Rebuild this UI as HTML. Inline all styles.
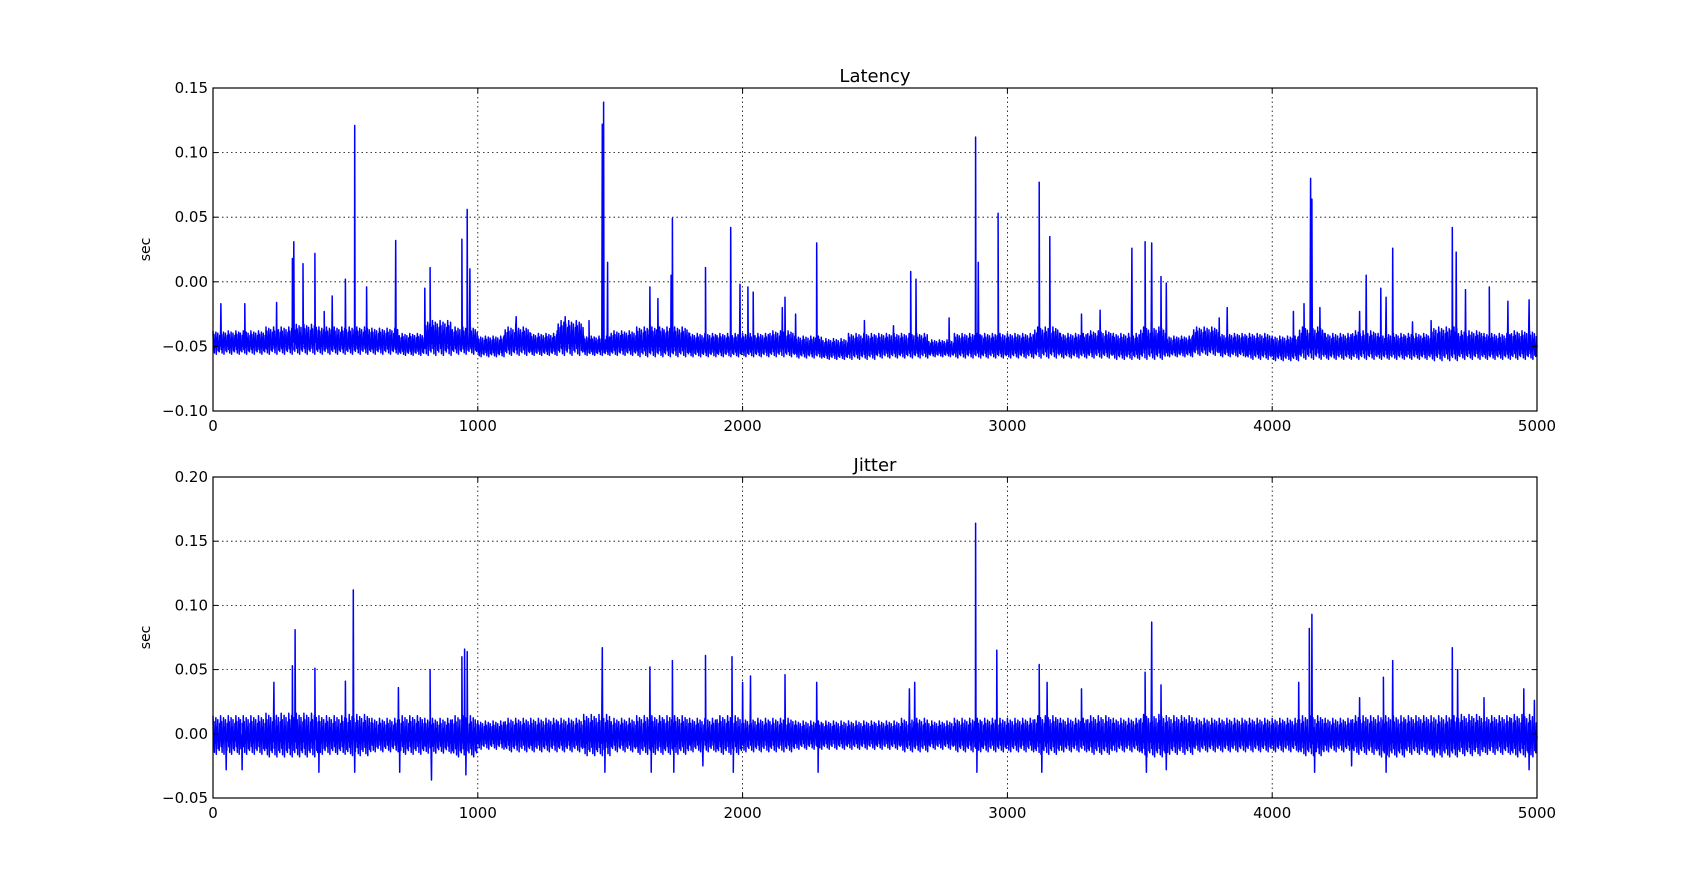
<!DOCTYPE html>
<html><head><meta charset="utf-8"><style>
html,body{margin:0;padding:0;background:#fff;}
svg{display:block;font-family:"DejaVu Sans","Liberation Sans",sans-serif;}
</style></head><body>
<svg id="chart" width="1707" height="887" viewBox="0 0 1707 887" xmlns="http://www.w3.org/2000/svg"></svg>
<script>
const xTicks=[0,1000,2000,3000,4000,5000];
const latTicks=[0.15,0.10,0.05,0.00,-0.05,-0.10];
const jitTicks=[0.20,0.15,0.10,0.05,0.00,-0.05];
const latHi=[-0.038,-0.038,-0.035,-0.033,-0.035,-0.035,-0.036,-0.04,-0.03,-0.035,-0.042,-0.035,-0.04,-0.03,-0.042,-0.038,-0.035,-0.035,-0.04,-0.04,-0.04,-0.038,-0.042,-0.044,-0.04,-0.04,-0.04,-0.045,-0.04,-0.04,-0.04,-0.035,-0.04,-0.038,-0.04,-0.035,-0.042,-0.035,-0.04,-0.04,-0.042,-0.035,-0.04,-0.038,-0.04,-0.04,-0.035,-0.038,-0.04,-0.038];
const latLo=[-0.056,-0.056,-0.056,-0.056,-0.056,-0.056,-0.056,-0.057,-0.057,-0.056,-0.058,-0.057,-0.057,-0.057,-0.057,-0.057,-0.058,-0.058,-0.058,-0.058,-0.058,-0.058,-0.059,-0.06,-0.06,-0.059,-0.059,-0.058,-0.059,-0.059,-0.059,-0.059,-0.059,-0.059,-0.06,-0.06,-0.058,-0.057,-0.058,-0.06,-0.061,-0.06,-0.06,-0.06,-0.06,-0.06,-0.061,-0.06,-0.06,-0.06];
const latSpikeX=[30,120,240,300,305,340,385,420,450,500,535,580,690,800,820,940,960,970,1145,1330,1420,1470,1475,1490,1650,1680,1730,1735,1860,1955,1990,2020,2040,2150,2160,2200,2280,2460,2570,2635,2655,2780,2880,2890,2965,3120,3160,3280,3350,3470,3520,3545,3580,3600,3800,3830,4080,4120,4145,4150,4180,4330,4355,4410,4430,4455,4530,4600,4680,4695,4730,4820,4890,4970];
const latSpikeY=[-0.017,-0.017,-0.016,0.018,0.031,0.014,0.022,-0.023,-0.011,0.002,0.121,-0.004,0.032,-0.005,0.011,0.033,0.056,0.01,-0.027,-0.027,-0.03,0.122,0.139,0.015,-0.004,-0.013,0.005,0.049,0.011,0.042,-0.002,-0.004,-0.008,-0.02,-0.012,-0.025,0.030,-0.03,-0.034,0.008,0.002,-0.028,0.112,0.015,0.053,0.077,0.035,-0.025,-0.022,0.026,0.031,0.030,0.004,-0.001,-0.028,-0.02,-0.023,-0.017,0.080,0.064,-0.02,-0.023,0.005,-0.005,-0.012,0.026,-0.031,-0.03,0.042,0.023,-0.006,-0.004,-0.015,-0.014];
const jitHi=[0.014,0.014,0.016,0.016,0.014,0.015,0.012,0.014,0.012,0.014,0.01,0.012,0.012,0.012,0.015,0.012,0.014,0.014,0.012,0.014,0.012,0.012,0.01,0.01,0.01,0.01,0.012,0.01,0.012,0.012,0.012,0.014,0.012,0.014,0.012,0.015,0.014,0.012,0.012,0.012,0.012,0.014,0.012,0.014,0.014,0.014,0.014,0.015,0.014,0.015];
const jitLo=[-0.016,-0.016,-0.018,-0.018,-0.016,-0.017,-0.014,-0.016,-0.015,-0.018,-0.012,-0.014,-0.014,-0.014,-0.017,-0.014,-0.016,-0.016,-0.014,-0.016,-0.014,-0.014,-0.012,-0.012,-0.012,-0.012,-0.014,-0.012,-0.014,-0.014,-0.014,-0.016,-0.014,-0.016,-0.014,-0.018,-0.016,-0.014,-0.014,-0.014,-0.014,-0.017,-0.014,-0.016,-0.018,-0.016,-0.018,-0.017,-0.016,-0.018];
const jitSpikeX=[50,110,230,300,310,385,400,500,530,535,700,705,820,825,940,950,955,960,1470,1480,1650,1655,1735,1740,1850,1860,1960,1965,2000,2030,2160,2280,2285,2630,2650,2880,2885,2960,3120,3130,3150,3280,3520,3525,3545,3580,3600,4100,4140,4150,4160,4300,4330,4420,4430,4455,4680,4700,4800,4950,4970,4990];
const jitSpikeY=[-0.028,-0.028,0.04,0.053,0.081,0.051,-0.03,0.041,0.112,-0.03,0.036,-0.03,0.05,-0.036,0.06,0.066,-0.032,0.064,0.067,-0.03,0.052,-0.03,0.057,-0.03,-0.025,0.061,0.06,-0.03,0.04,0.045,0.046,0.04,-0.03,0.035,0.04,0.164,-0.03,0.065,0.054,-0.03,0.04,0.035,0.048,-0.03,0.087,0.038,-0.028,0.04,0.082,0.093,-0.03,-0.025,0.028,0.044,-0.03,0.057,0.067,0.05,0.028,0.035,-0.028,0.026];

const NS="http://www.w3.org/2000/svg";
const svg=document.getElementById('chart');
function mk(tag,attrs,parent){const e=document.createElementNS(NS,tag);for(const k in attrs)e.setAttribute(k,attrs[k]);(parent||svg).appendChild(e);return e;}
const X0=213,X1=1537;
const pattern=[1,0.2,0.85,0.05,0.6,0.3,0.95,0,0.7,0.4,0.9,0.15,0.5,0.1,0.8,0.35];

function panel(name,title,top,bottom,ymax,ymin,ticks,hi,lo,sx,sy){
  const g=mk('g',{});
  
  
  const xs=v=>X0+(v/5000)*(X1-X0);
  const ys=v=>top+(ymax-v)/(ymax-ymin)*(bottom-top);
  xTicks.forEach(t=>{if(t>0&&t<5000){const l=mk('line',{x1:xs(t),x2:xs(t),y1:top,y2:bottom,stroke:'#000','stroke-width':0.8,'stroke-dasharray':'1.5,3'},g);
    }});
  ticks.forEach(t=>{if(t<ymax-1e-9&&t>ymin+1e-9){const l=mk('line',{x1:X0,x2:X1,y1:ys(t),y2:ys(t),stroke:'#000','stroke-width':0.8,'stroke-dasharray':'1.5,3'},g);
    }});
  const bw=5000/hi.length;
  const pts=[];
  const spikes=sx.map((x,i)=>[x,sy[i]]).sort((a,b)=>a[0]-b[0]);
  let si=0;
  const step=1.8;
  for(let b=0;b<hi.length;b++){
    const n=Math.round(bw/step);
    for(let k=0;k<n;k++){
      const x=b*bw+k*step;
      while(si<spikes.length&&spikes[si][0]<=x){
        const [spx,spy]=spikes[si];
        pts.push([xs(spx),ys(spy)]);
        pts.push([xs(spx+1.5),ys((hi[b]+lo[b])/2)]);
        si++;
      }
      const f=pattern[(b*n+k)%pattern.length];
      pts.push([xs(x),ys(lo[b]+(hi[b]-lo[b])*f)]);
    }
  }
  pts.push([xs(5000),ys((hi[hi.length-1]+lo[lo.length-1])/2)]);
  const p=mk('polyline',{points:pts.map(q=>q[0].toFixed(1)+','+q[1].toFixed(1)).join(' '),fill:'none',stroke:'#0000ff','stroke-width':1.5,'stroke-linejoin':'round'},g);
  
  const r=mk('rect',{x:X0,y:top,width:X1-X0,height:bottom-top,fill:'none',stroke:'#000','stroke-width':1.2},g);
  
  xTicks.forEach(t=>{
    mk('line',{x1:xs(t),x2:xs(t),y1:bottom,y2:bottom-5,stroke:'#000'},g);
    mk('line',{x1:xs(t),x2:xs(t),y1:top,y2:top+5,stroke:'#000'},g);
    const tx=mk('text',{x:xs(t),y:bottom+20,'font-size':15,'text-anchor':'middle',fill:'#000'},g);
    tx.textContent=t;
    
  });
  ticks.forEach(t=>{
    mk('line',{x1:X0,x2:X0+5,y1:ys(t),y2:ys(t),stroke:'#000'},g);
    mk('line',{x1:X1,x2:X1-5,y1:ys(t),y2:ys(t),stroke:'#000'},g);
    const tx=mk('text',{x:X0-5,y:ys(t)+5,'font-size':15,'text-anchor':'end',fill:'#000'},g);
    tx.textContent=(t<0?'\u2212':'')+Math.abs(t).toFixed(2);
    
  });
  const tt=mk('text',{x:(X0+X1)/2,y:top-6,'font-size':18,'text-anchor':'middle',fill:'#000'},g);
  tt.textContent=title;
  
  const yl=mk('text',{x:0,y:0,'font-size':14,'text-anchor':'middle',fill:'#000',transform:`translate(150,${(top+bottom)/2}) rotate(-90)`},g);
  yl.textContent='sec';
  
}
panel('latency','Latency',88,411,0.15,-0.10,latTicks,latHi,latLo,latSpikeX,latSpikeY);
panel('jitter','Jitter',477,798,0.20,-0.05,jitTicks,jitHi,jitLo,jitSpikeX,jitSpikeY);
</script>
</body></html>
